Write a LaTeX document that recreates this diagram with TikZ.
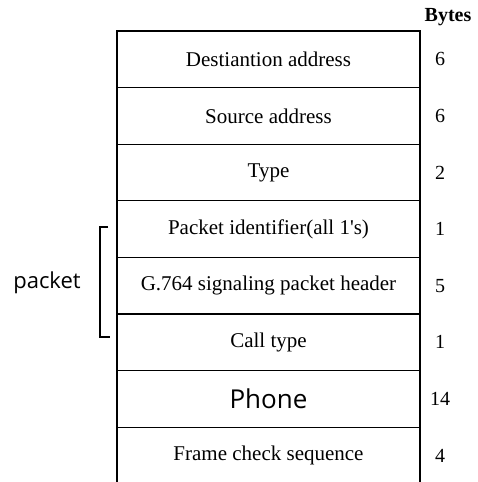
\documentclass[tikz,border=0pt]{standalone}
\usepackage{fontspec}
\setmainfont{Liberation Serif}
\newfontfamily\sansfont{Open Sans}
\usetikzlibrary{positioning}

\begin{document}
\begin{tikzpicture}[x=1pt,y=-1pt,
  field/.style={draw,line width=1.2pt,minimum width=303pt,minimum height=56.6pt,inner sep=0pt,outer sep=0pt,font=\fontsize{21}{25}\selectfont},
  bytes/.style={font=\fontsize{20}{24}\selectfont}]
  \useasboundingbox (0,0) rectangle (478,482);

  \node[field] (dest) at (268.5,59.3) {Destiantion address};
  \node[field,below=0pt of dest] (src) {Source address};
  \node[field,below=0pt of src] (type) {Type};
  \node[field,below=0pt of type] (pid) {Packet identifier(all 1\textquotesingle s)};
  \node[field,below=0pt of pid] (hdr) {G.764 signaling packet header};
  \node[field,below=0pt of hdr] (call) {Call type};
  \node[field,below=0pt of call,font=\sansfont\fontsize{26}{30}\selectfont] (phone) {Phone};
  \node[field,draw=none,below=0pt of phone] (fcs) {Frame check sequence};
  \draw[line width=1.2pt] (fcs.north west) -- (fcs.south west);
  \draw[line width=1.2pt] (fcs.north east) -- (fcs.south east);

  \node[bytes] (bytes) at (448,17) {\textbf{Bytes}};
  \node[bytes] (n1) at ([xshift=20pt]dest.east) {6};
  \node[bytes] (n2) at ([xshift=20pt]src.east) {6};
  \node[bytes] (n3) at ([xshift=20pt]type.east) {2};
  \node[bytes] (n4) at ([xshift=20pt]pid.east) {1};
  \node[bytes] (n5) at ([xshift=20pt]hdr.east) {5};
  \node[bytes] (n6) at ([xshift=20pt]call.east) {1};
  \node[bytes] (n7) at ([xshift=20pt]phone.east) {14};
  \node[bytes] (n8) at ([xshift=20pt]fcs.east) {4};

  \coordinate (ptop) at (108,227);
  \coordinate (pbot) at (110,337);
  \draw[line width=1.4pt] (ptop) -- ++(-8,0) |- (pbot);
  \node[font=\sansfont\fontsize{22}{26}\selectfont] (pkt) at (47,283) {packet};

\end{tikzpicture}
\end{document}
